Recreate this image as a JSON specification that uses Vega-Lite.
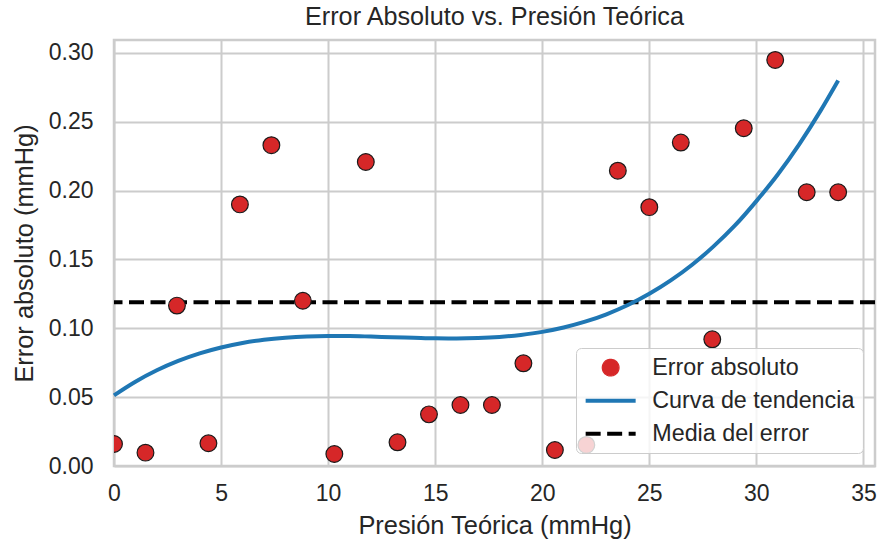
{
  "$schema": "https://vega.github.io/schema/vega-lite/v6.json",
  "width": 761,
  "height": 426,
  "autosize": {"type": "none"},
  "padding": {"left": 114, "top": 40, "right": 5, "bottom": 79},
  "background": "white",
  "title": {
    "text": "Error Absoluto vs. Presión Teórica",
    "font": "Liberation Sans",
    "fontSize": 25.2,
    "fontWeight": "normal",
    "color": "#262626",
    "offset": 10
  },
  "config": {
    "view": {"stroke": "#cccccc", "strokeWidth": 2.5}
  },
  "datasets": {
    "puntos": [
      {"presion": 0.0, "error": 0.0160, "serie": "Error absoluto"},
      {"presion": 1.47, "error": 0.0097, "serie": "Error absoluto"},
      {"presion": 2.94, "error": 0.1165, "serie": "Error absoluto"},
      {"presion": 4.41, "error": 0.0165, "serie": "Error absoluto"},
      {"presion": 5.88, "error": 0.1900, "serie": "Error absoluto"},
      {"presion": 7.35, "error": 0.2330, "serie": "Error absoluto"},
      {"presion": 8.82, "error": 0.1200, "serie": "Error absoluto"},
      {"presion": 10.29, "error": 0.0087, "serie": "Error absoluto"},
      {"presion": 11.76, "error": 0.2208, "serie": "Error absoluto"},
      {"presion": 13.24, "error": 0.0172, "serie": "Error absoluto"},
      {"presion": 14.71, "error": 0.0375, "serie": "Error absoluto"},
      {"presion": 16.18, "error": 0.0443, "serie": "Error absoluto"},
      {"presion": 17.65, "error": 0.0443, "serie": "Error absoluto"},
      {"presion": 19.12, "error": 0.0746, "serie": "Error absoluto"},
      {"presion": 20.59, "error": 0.0116, "serie": "Error absoluto"},
      {"presion": 22.06, "error": 0.0153, "serie": "Error absoluto"},
      {"presion": 23.53, "error": 0.2145, "serie": "Error absoluto"},
      {"presion": 25.0, "error": 0.1880, "serie": "Error absoluto"},
      {"presion": 26.47, "error": 0.2349, "serie": "Error absoluto"},
      {"presion": 27.94, "error": 0.0920, "serie": "Error absoluto"},
      {"presion": 29.41, "error": 0.2453, "serie": "Error absoluto"},
      {"presion": 30.88, "error": 0.2949, "serie": "Error absoluto"},
      {"presion": 32.35, "error": 0.1988, "serie": "Error absoluto"},
      {"presion": 33.82, "error": 0.1988, "serie": "Error absoluto"}
    ],
    "curva": [
      {"presion": 0, "error": 0.0513, "serie": "Curva de tendencia"},
      {"presion": 1, "error": 0.0612, "serie": "Curva de tendencia"},
      {"presion": 2, "error": 0.0695, "serie": "Curva de tendencia"},
      {"presion": 3, "error": 0.0763, "serie": "Curva de tendencia"},
      {"presion": 4, "error": 0.0818, "serie": "Curva de tendencia"},
      {"presion": 5, "error": 0.0861, "serie": "Curva de tendencia"},
      {"presion": 6, "error": 0.0894, "serie": "Curva de tendencia"},
      {"presion": 7, "error": 0.0917, "serie": "Curva de tendencia"},
      {"presion": 8, "error": 0.0932, "serie": "Curva de tendencia"},
      {"presion": 9, "error": 0.0941, "serie": "Curva de tendencia"},
      {"presion": 10, "error": 0.0944, "serie": "Curva de tendencia"},
      {"presion": 11, "error": 0.0944, "serie": "Curva de tendencia"},
      {"presion": 12, "error": 0.0940, "serie": "Curva de tendencia"},
      {"presion": 13, "error": 0.0935, "serie": "Curva de tendencia"},
      {"presion": 14, "error": 0.0931, "serie": "Curva de tendencia"},
      {"presion": 15, "error": 0.0927, "serie": "Curva de tendencia"},
      {"presion": 16, "error": 0.0926, "serie": "Curva de tendencia"},
      {"presion": 17, "error": 0.0929, "serie": "Curva de tendencia"},
      {"presion": 18, "error": 0.0937, "serie": "Curva de tendencia"},
      {"presion": 19, "error": 0.0952, "serie": "Curva de tendencia"},
      {"presion": 20, "error": 0.0974, "serie": "Curva de tendencia"},
      {"presion": 21, "error": 0.1006, "serie": "Curva de tendencia"},
      {"presion": 22, "error": 0.1048, "serie": "Curva de tendencia"},
      {"presion": 23, "error": 0.1102, "serie": "Curva de tendencia"},
      {"presion": 24, "error": 0.1169, "serie": "Curva de tendencia"},
      {"presion": 25, "error": 0.1251, "serie": "Curva de tendencia"},
      {"presion": 26, "error": 0.1348, "serie": "Curva de tendencia"},
      {"presion": 27, "error": 0.1462, "serie": "Curva de tendencia"},
      {"presion": 28, "error": 0.1595, "serie": "Curva de tendencia"},
      {"presion": 29, "error": 0.1747, "serie": "Curva de tendencia"},
      {"presion": 30, "error": 0.1924, "serie": "Curva de tendencia"},
      {"presion": 31, "error": 0.2117, "serie": "Curva de tendencia"},
      {"presion": 32, "error": 0.2336, "serie": "Curva de tendencia"},
      {"presion": 33, "error": 0.2581, "serie": "Curva de tendencia"},
      {"presion": 33.82, "error": 0.2800, "serie": "Curva de tendencia"}
    ],
    "media": [
      {"serie": "Media del error", "error": 0.1189}
    ]
  },
  "encoding": {
    "x": {
      "field": "presion",
      "type": "quantitative",
      "title": "Presión Teórica (mmHg)",
      "scale": {"domain": [0, 35.54], "nice": false, "zero": false},
      "axis": {
        "values": [0, 5, 10, 15, 20, 25, 30, 35],
        "format": "d",
        "domain": false,
        "ticks": false,
        "grid": true,
        "gridColor": "#cccccc",
        "gridWidth": 2,
        "labelFont": "Liberation Sans",
        "labelFontSize": 23,
        "labelColor": "#262626",
        "labelPadding": 16,
        "labelFlush": false,
        "titleFont": "Liberation Sans",
        "titleFontSize": 25.4,
        "titleFontWeight": "normal",
        "titleColor": "#262626",
        "titlePadding": 8
      }
    },
    "y": {
      "field": "error",
      "type": "quantitative",
      "title": "Error absoluto (mmHg)",
      "scale": {"domain": [0, 0.3094], "nice": false, "zero": false},
      "axis": {
        "values": [0, 0.05, 0.1, 0.15, 0.2, 0.25, 0.3],
        "format": ".2f",
        "domain": false,
        "ticks": false,
        "grid": true,
        "gridColor": "#cccccc",
        "gridWidth": 2,
        "labelFont": "Liberation Sans",
        "labelFontSize": 23,
        "labelColor": "#262626",
        "labelPadding": 21,
        "labelFlush": false,
        "titleFont": "Liberation Sans",
        "titleFontSize": 25.4,
        "titleFontWeight": "normal",
        "titleColor": "#262626",
        "titlePadding": 11
      }
    },
    "color": {
      "field": "serie",
      "type": "nominal",
      "scale": {
        "domain": ["Error absoluto", "Curva de tendencia", "Media del error"],
        "range": ["#d62728", "#1f77b4", "#000000"]
      },
      "legend": {
        "title": null,
        "orient": "none",
        "legendX": 462,
        "legendY": 308,
        "fillColor": "rgba(255,255,255,0.8)",
        "strokeColor": "#cccccc",
        "cornerRadius": 5,
        "padding": 8,
        "labelFont": "Liberation Sans",
        "labelFontSize": 23.3,
        "labelColor": "#262626",
        "labelLimit": 400,
        "symbolSize": 2500,
        "symbolType": "stroke",
        "symbolOffset": 15,
        "labelOffset": 30,
        "rowPadding": 9,
        "encode": {
          "symbols": {
            "update": {
              "shape": {"signal": "datum.value === 'Error absoluto' ? 'circle' : 'stroke'"},
              "size": {"signal": "datum.value === 'Error absoluto' ? 280 : 2500"},
              "fill": {"signal": "datum.value === 'Error absoluto' ? '#d62728' : 'transparent'"},
              "stroke": {"signal": "datum.value === 'Error absoluto' ? '#1a1a1a' : (datum.value === 'Curva de tendencia' ? '#1f77b4' : '#000000')"},
              "strokeWidth": {"signal": "datum.value === 'Error absoluto' ? 1.2 : 4"},
              "strokeDash": {"signal": "datum.value === 'Media del error' ? [15, 6.5] : [1, 0]"},
              "opacity": {"value": 1}
            }
          }
        }
      }
    }
  },
  "layer": [
    {
      "data": {"name": "media"},
      "mark": {"type": "rule", "strokeWidth": 4, "strokeDash": [15, 6.5]},
      "encoding": {
        "x": null
      }
    },
    {
      "data": {"name": "curva"},
      "mark": {"type": "line", "strokeWidth": 4, "interpolate": "monotone"}
    },
    {
      "data": {"name": "puntos"},
      "mark": {"type": "point", "filled": true, "size": 280, "opacity": 1, "stroke": "#1a1a1a", "strokeWidth": 1.2, "clip": true}
    }
  ]
}
